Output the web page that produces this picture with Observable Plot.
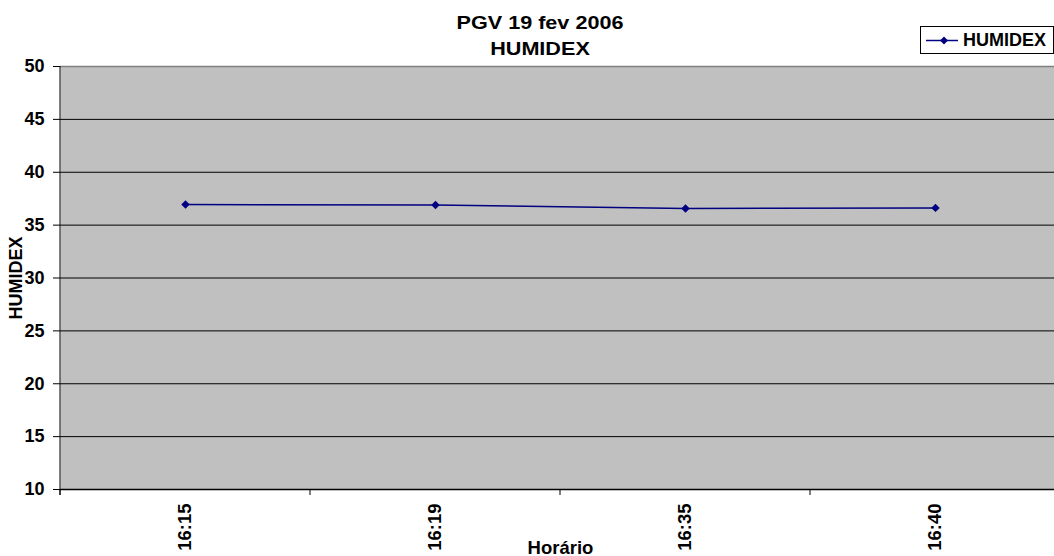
<!DOCTYPE html>
<html>
<head>
<meta charset="utf-8">
<script src="https://cdn.jsdelivr.net/npm/d3@7"></script>
<script src="https://cdn.jsdelivr.net/npm/@observablehq/plot@0.6"></script>
<style>
  html, body { margin: 0; padding: 0; background: #fff; overflow: hidden; }
  body { position: relative; width: 1054px; height: 556px; font-family: "Liberation Sans", Arial, sans-serif; }
  #chart { position: absolute; left: 0; top: 0; width: 1060px; }
  #chart svg { max-width: none !important; }
  #title { position: absolute; left: 0; top: 10px; width: 1080px; text-align: center; font-weight: bold; font-size: 18px; line-height: 26px; transform: scaleX(1.2); transform-origin: 540px 0; color: #000; }
  #legend { position: absolute; left: 920px; top: 26px; width: 132px; height: 26px; border: 1px solid #000; background: #fff; box-sizing: content-box; }
  #legend svg { position: absolute; left: 0; top: 0; }
  #legend span { position: absolute; left: 42px; top: 3px; font-weight: bold; font-size: 18px; line-height: 20px; }
</style>
</head>
<body>
<div id="chart"></div>
<div id="title">PGV 19 fev 2006<br>HUMIDEX</div>
<div id="legend"><svg width="40" height="27"><line x1="5" x2="37" y1="13.5" y2="13.5" stroke="#000080" stroke-width="1.5"/><path d="M23,9.5L27,13.5L23,17.5L19,13.5Z" fill="#000080"/></svg><span>HUMIDEX</span></div>
<script>
const categories = ["16:15", "16:19", "16:35", "16:40"];
const humidex = [36.95, 36.9, 36.57, 36.63];
const yTicks = [10, 15, 20, 25, 30, 35, 40, 45, 50];
const seriesName = "HUMIDEX";
const xTitle = "Horário";
const yTitle = "HUMIDEX";

const data = categories.map((c, i) => ({time: c, value: humidex[i]}));

// boundary ticks between categories and left axis line, derived from the x scale
function axisLines(index, scales, values, dims) {
  const g = d3.create("svg:g");
  const x = scales.x;
  const pos = categories.map(c => x(c));
  const step = pos.length > 1 ? pos[1] - pos[0] : 0;
  const bounds = pos.map(p => p - step / 2).concat([pos[pos.length - 1] + step / 2]);
  const yb = dims.height - dims.marginBottom;
  g.selectAll("line.t").data(bounds).join("line")
    .attr("x1", d => d).attr("x2", d => d)
    .attr("y1", yb).attr("y2", yb + 6)
    .attr("stroke", "#000");
  g.append("line")
    .attr("x1", dims.marginLeft).attr("x2", dims.marginLeft)
    .attr("y1", dims.marginTop).attr("y2", yb + 6)
    .attr("stroke", "#000");
  return g.node();
}

const chart = Plot.plot({
  width: 1060,
  height: 556,
  marginLeft: 60,
  marginRight: 0,
  marginTop: 66,
  marginBottom: 67,
  style: {fontFamily: "'Liberation Sans', Arial, sans-serif", fontWeight: "bold", fontSize: "18px", color: "#000", background: "transparent", maxWidth: "none"},
  x: {type: "point", domain: categories, padding: 0.5},
  y: {domain: [10, 50]},
  marks: [
    Plot.frame({fill: "#c0c0c0", stroke: null}),
    Plot.ruleY(yTicks.filter(v => v > 10 && v < 50), {stroke: "#000", strokeWidth: 1}),
    Plot.ruleY([50], {stroke: "#808080", strokeWidth: 1.5}),
    Plot.ruleY([10], {stroke: "#000", strokeWidth: 1.5}),
    axisLines,
    Plot.axisY({ticks: yTicks, tickSize: 7, tickPadding: 9, fontSize: 18, fontWeight: "bold", label: yTitle, labelAnchor: "center", labelOffset: 51, labelArrow: "none"}),
    Plot.axisX({tickSize: 0, tickPadding: 14, tickRotate: -90, fontSize: 18.5, fontWeight: "bold", label: xTitle, labelAnchor: "center", labelOffset: 64, labelArrow: "none"}),
    Plot.line(data, {x: "time", y: "value", stroke: "#000080", strokeWidth: 1.5}),
    Plot.dot(data, {x: "time", y: "value", symbol: "diamond2", r: 3.8, fill: "#000080", stroke: null})
  ]
});
document.getElementById("chart").appendChild(chart);
</script>
</body>
</html>
